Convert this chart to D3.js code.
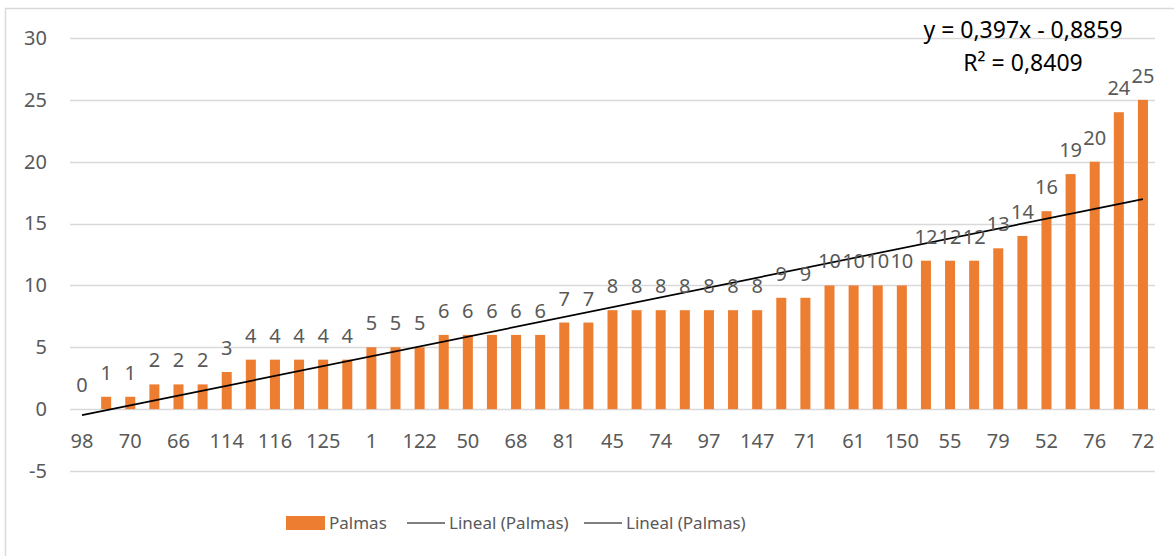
<!DOCTYPE html>
<html>
<head>
<meta charset="utf-8">
<script src="https://cdn.jsdelivr.net/npm/d3@7"></script>
<style>
  html, body { margin: 0; padding: 0; background: #fff; }
  svg { display: block; font-family: "Noto Sans", "Open Sans", sans-serif; }
</style>
</head>
<body>
<svg id="chart" width="1174" height="556"></svg>
<script>
// ---- data ----
const values = [0,1,1,2,2,2,3,4,4,4,4,4,5,5,5,6,6,6,6,6,7,7,8,8,8,8,8,8,8,9,9,10,10,10,10,12,12,12,13,14,16,19,20,24,25];
// category labels visible on the axis (every second category)
const tickLabels = ["98","70","66","114","116","125","1","122","50","68","81","45","74","97","147","71","61","150","55","79","52","76","72"];
const yTicks = [-5,0,5,10,15,20,25,30];
const trendSlope = 0.397;
const trendIntercept = -0.8859;
const trendText = ["y = 0,397x - 0,8859", "R² = 0,8409"];
const seriesName = "Palmas";
const trendName = "Lineal (Palmas)";

const ORANGE = "#ED7D31", GRID = "#D9D9D9", TXT = "#595959";

const svg = d3.select("#chart");

// outer chart border
svg.append("rect").attr("x", 5.5).attr("y", 8.5).attr("width", 1180).attr("height", 560)
  .attr("fill", "none").attr("stroke", GRID).attr("stroke-width", 1.5);

const idx = d3.range(values.length);
const x = d3.scaleBand().domain(idx).range([70, 1155]).paddingInner(0.585).paddingOuter(0.2925);
const y = d3.scaleLinear().domain([-5, 30]).range([471, 38]);

// gridlines
svg.append("g").selectAll("line").data(yTicks).join("line")
  .attr("x1", 70).attr("x2", 1155)
  .attr("y1", d => Math.round(y(d)) + 0.5).attr("y2", d => Math.round(y(d)) + 0.5)
  .attr("stroke", GRID).attr("stroke-width", 1.3);

// y axis labels
const yAxis = d3.axisLeft(y).tickValues(yTicks).tickSize(0).tickPadding(0).tickFormat(d => String(d));
const gy = svg.append("g").attr("transform", "translate(47,0)").call(yAxis);
gy.select(".domain").remove();
gy.selectAll("text").attr("fill", TXT).attr("font-size", 20).attr("font-family", "Noto Sans");

// bars
svg.append("g").selectAll("rect").data(values).join("rect")
  .attr("x", (d, i) => x(i)).attr("width", x.bandwidth())
  .attr("y", d => y(d)).attr("height", d => y(0) - y(d))
  .attr("fill", ORANGE);

// x axis labels (every second category)
const xAxis = d3.axisBottom(x).tickValues(idx.filter(i => i % 2 === 0))
  .tickSize(0).tickPadding(0).tickFormat(i => tickLabels[i / 2]);
const gx = svg.append("g").attr("transform", `translate(0,${y(0)})`).call(xAxis);
gx.select(".domain").remove();
gx.selectAll("text").attr("fill", TXT).attr("font-size", 20).attr("font-family", "Noto Sans")
  .attr("dy", null).attr("y", 39);

// trendline
const xc = i => x(i) + x.bandwidth() / 2;
const trendPts = [0, values.length - 1].map(i => [xc(i), y(trendSlope * (i + 1) + trendIntercept)]);
svg.append("path").attr("d", d3.line()(trendPts))
  .attr("stroke", "#000").attr("stroke-width", 1.7).attr("fill", "none");

// data labels
svg.append("g").selectAll("text").data(values).join("text")
  .attr("x", (d, i) => xc(i)).attr("y", d => y(d) - 17)
  .attr("text-anchor", "middle").attr("fill", TXT).attr("font-size", 20)
  .text(d => d);

// trend equation
svg.append("g").selectAll("text").data(trendText).join("text")
  .attr("x", 1023).attr("y", (d, i) => 38 + i * 33)
  .attr("text-anchor", "middle").attr("fill", "#000").attr("font-size", 23)
  .text(d => d);

// legend
const lg = svg.append("g");
lg.append("rect").attr("x", 286).attr("y", 516).attr("width", 39).attr("height", 14).attr("fill", ORANGE);
lg.append("text").attr("x", 329).attr("y", 529).attr("fill", TXT).attr("font-size", 17).text(seriesName);
[407, 584].forEach(lx => {
  lg.append("line").attr("x1", lx).attr("x2", lx + 38).attr("y1", 523).attr("y2", 523)
    .attr("stroke", "#000").attr("stroke-width", 1.2);
  lg.append("text").attr("x", lx + 42).attr("y", 529).attr("fill", TXT).attr("font-size", 17).text(trendName);
});
</script>
</body>
</html>
